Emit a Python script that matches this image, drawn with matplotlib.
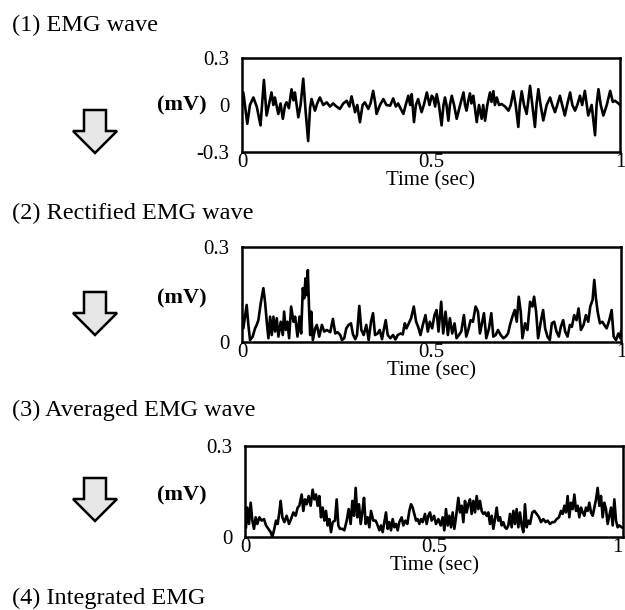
import matplotlib
matplotlib.use("Agg")
import matplotlib.pyplot as plt
from matplotlib.patches import Polygon
import numpy as np

# (1) raw EMG wave, time (sec) / mV
t_raw = [0.000, 0.0035, 0.014, 0.021, 0.030, 0.039, 0.049, 0.058, 0.065, 0.072,
         0.078, 0.083, 0.087, 0.096, 0.102, 0.108, 0.114, 0.118, 0.124, 0.131,
         0.136, 0.140, 0.149, 0.155, 0.162, 0.168, 0.175, 0.180, 0.184, 0.193,
         0.199, 0.206, 0.215, 0.224, 0.233, 0.241, 0.250, 0.259, 0.268, 0.277,
         0.284, 0.290, 0.299, 0.305, 0.312, 0.319, 0.325, 0.334, 0.340, 0.347,
         0.352, 0.356, 0.365, 0.374, 0.382, 0.392, 0.400, 0.407, 0.413, 0.419,
         0.427, 0.433, 0.440, 0.445, 0.449, 0.455, 0.460, 0.466, 0.475, 0.481,
         0.489, 0.496, 0.502, 0.506, 0.511, 0.515, 0.521, 0.528, 0.533, 0.537,
         0.541, 0.546, 0.550, 0.555, 0.561, 0.568, 0.577, 0.586, 0.590, 0.594,
         0.598, 0.603, 0.607, 0.612, 0.621, 0.627, 0.634, 0.638, 0.643, 0.649,
         0.656, 0.660, 0.665, 0.669, 0.674, 0.680, 0.687, 0.696, 0.705, 0.711,
         0.718, 0.724, 0.731, 0.735, 0.740, 0.746, 0.753, 0.757, 0.762, 0.768,
         0.775, 0.779, 0.784, 0.790, 0.797, 0.806, 0.815, 0.821, 0.828, 0.834,
         0.841, 0.847, 0.854, 0.860, 0.868, 0.874, 0.881, 0.887, 0.894, 0.900,
         0.907, 0.912, 0.916, 0.925, 0.934, 0.938, 0.943, 0.949, 0.956, 0.965,
         0.974, 0.981, 0.987, 0.996, 1.000]
v_raw = [0.000, 0.080, -0.120, 0.000, 0.048, -0.010, -0.130, 0.160, -0.067, 0.010,
         0.080, 0.000, 0.048, -0.057, 0.010, -0.088, 0.000, 0.017, -0.020, 0.100,
         0.030, 0.080, -0.078, 0.000, 0.168, -0.030, -0.230, -0.020, 0.038, -0.036,
         0.010, 0.048, 0.000, 0.017, -0.010, 0.010, -0.010, -0.025, 0.010, 0.027,
         -0.010, 0.055, -0.046, 0.000, -0.110, 0.000, 0.017, -0.025, 0.010, 0.090,
         0.020, -0.057, 0.000, 0.038, 0.000, -0.004, 0.042, -0.010, 0.010, -0.020,
         -0.057, 0.000, 0.059, 0.000, 0.069, -0.109, 0.000, 0.038, -0.046, 0.000,
         0.080, 0.000, 0.059, 0.048, -0.010, 0.069, 0.000, -0.130, 0.000, 0.048,
         0.000, -0.100, 0.000, 0.059, 0.000, -0.088, 0.000, 0.080, 0.000, -0.036,
         0.020, 0.074, 0.010, 0.059, -0.109, 0.000, -0.088, 0.000, -0.100, 0.000,
         0.080, 0.020, 0.088, 0.000, 0.048, 0.000, 0.006, -0.010, -0.036, 0.000,
         0.088, 0.000, -0.140, 0.000, 0.088, 0.000, -0.057, 0.020, 0.122, 0.000,
         -0.140, 0.000, 0.101, 0.000, -0.099, 0.000, 0.048, 0.000, -0.046, 0.000,
         0.059, 0.000, -0.067, 0.000, 0.080, 0.000, -0.036, 0.000, 0.059, 0.000,
         0.090, 0.000, -0.067, 0.000, -0.193, 0.000, 0.101, 0.000, -0.067, 0.000,
         0.090, 0.020, 0.027, 0.010, 0.000]

# (2) rectified EMG wave
t_rect = [0.000, 0.0035, 0.0079, 0.0123, 0.0168, 0.0212, 0.0282, 0.0344, 0.0388, 0.0432,
          0.0494, 0.0564, 0.0608, 0.0653, 0.0697, 0.0741, 0.0785, 0.0829, 0.0873, 0.0917,
          0.0961, 0.1023, 0.1076, 0.1111, 0.1155, 0.1199, 0.1243, 0.1296, 0.1358, 0.1402,
          0.1464, 0.1517, 0.1561, 0.1605, 0.1640, 0.1675, 0.1711, 0.1737, 0.1772, 0.1799,
          0.1825, 0.1869, 0.1931, 0.1975, 0.2037, 0.2108, 0.2169, 0.2240, 0.2328, 0.2399,
          0.2460, 0.2522, 0.2593, 0.2637, 0.2698, 0.2751, 0.2813, 0.2875, 0.2928, 0.2989,
          0.3034, 0.3095, 0.3148, 0.3210, 0.3280, 0.3342, 0.3404, 0.3457, 0.3510, 0.3580,
          0.3633, 0.3695, 0.3739, 0.3792, 0.3845, 0.3915, 0.3986, 0.4048, 0.4109, 0.4180,
          0.4242, 0.4295, 0.4339, 0.4400, 0.4462, 0.4533, 0.4594, 0.4647, 0.4709, 0.4771,
          0.4841, 0.4903, 0.4956, 0.5018, 0.5079, 0.5132, 0.5185, 0.5256, 0.5309, 0.5370,
          0.5432, 0.5485, 0.5547, 0.5608, 0.5661, 0.5723, 0.5785, 0.5855, 0.5917, 0.5970,
          0.6032, 0.6093, 0.6164, 0.6226, 0.6279, 0.6340, 0.6384, 0.6446, 0.6517, 0.6578,
          0.6631, 0.6693, 0.6755, 0.6825, 0.6896, 0.6958, 0.7019, 0.7072, 0.7134, 0.7196,
          0.7249, 0.7302, 0.7354, 0.7399, 0.7469, 0.7531, 0.7601, 0.7663, 0.7707, 0.7760,
          0.7813, 0.7884, 0.7945, 0.7998, 0.8060, 0.8122, 0.8175, 0.8236, 0.8298, 0.8360,
          0.8413, 0.8474, 0.8527, 0.8589, 0.8651, 0.8704, 0.8765, 0.8827, 0.8880, 0.8942,
          0.9012, 0.9074, 0.9136, 0.9189, 0.9250, 0.9295, 0.9339, 0.9383, 0.9444, 0.9506,
          0.9559, 0.9621, 0.9691, 0.9753, 0.9806, 0.9868, 0.9929, 0.9982, 1.000]
v_rect = [0.085, 0.043, 0.080, 0.117, 0.054, 0.006, 0.017, 0.043, 0.054, 0.069,
          0.122, 0.170, 0.127, 0.064, 0.012, 0.080, 0.022, 0.080, 0.033, 0.075,
          0.017, 0.064, 0.022, 0.096, 0.038, 0.064, 0.012, 0.112, 0.064, 0.080,
          0.017, 0.080, 0.027, 0.170, 0.138, 0.201, 0.148, 0.227, 0.096, 0.022,
          0.096, 0.006, 0.043, 0.054, 0.017, 0.054, 0.033, 0.038, 0.031, 0.073,
          0.027, 0.031, 0.022, 0.006, 0.012, 0.043, 0.054, 0.059, 0.024, 0.009,
          0.022, 0.114, 0.038, 0.022, 0.054, 0.006, 0.064, 0.091, 0.022, 0.027,
          0.038, 0.009, 0.038, 0.069, 0.022, 0.012, 0.022, 0.008, 0.022, 0.027,
          0.024, 0.059, 0.043, 0.059, 0.075, 0.112, 0.064, 0.048, 0.022, 0.054,
          0.085, 0.033, 0.064, 0.043, 0.085, 0.101, 0.033, 0.127, 0.027, 0.096,
          0.022, 0.075, 0.027, 0.059, 0.012, 0.022, 0.033, 0.085, 0.017, 0.038,
          0.069, 0.064, 0.112, 0.096, 0.027, 0.064, 0.091, 0.012, 0.043, 0.091,
          0.017, 0.022, 0.038, 0.022, 0.012, 0.017, 0.027, 0.054, 0.080, 0.101,
          0.064, 0.143, 0.096, 0.012, 0.059, 0.038, 0.127, 0.112, 0.143, 0.096,
          0.012, 0.064, 0.101, 0.043, 0.017, 0.006, 0.059, 0.064, 0.033, 0.017,
          0.048, 0.069, 0.033, 0.017, 0.054, 0.048, 0.085, 0.069, 0.106, 0.038,
          0.054, 0.085, 0.064, 0.112, 0.133, 0.196, 0.138, 0.096, 0.059, 0.064,
          0.054, 0.043, 0.069, 0.101, 0.017, 0.006, 0.027, 0.012, 0.033]

# (3) averaged EMG wave
t_avg = [0.0026, 0.0062, 0.0106, 0.0150, 0.0194, 0.0238, 0.0282, 0.0326, 0.0379, 0.0441,
         0.0503, 0.0556, 0.0617, 0.0679, 0.0723, 0.0767, 0.0820, 0.0864, 0.0908, 0.0944,
         0.0988, 0.1041, 0.1102, 0.1164, 0.1217, 0.1279, 0.1340, 0.1393, 0.1437, 0.1499,
         0.1543, 0.1587, 0.1631, 0.1684, 0.1737, 0.1790, 0.1834, 0.1878, 0.1922, 0.1966,
         0.2011, 0.2055, 0.2099, 0.2143, 0.2187, 0.2231, 0.2275, 0.2319, 0.2381, 0.2425,
         0.2469, 0.2513, 0.2575, 0.2628, 0.2690, 0.2743, 0.2795, 0.2840, 0.2884, 0.2928,
         0.2972, 0.3016, 0.3060, 0.3104, 0.3148, 0.3192, 0.3245, 0.3289, 0.3333, 0.3395,
         0.3457, 0.3510, 0.3554, 0.3598, 0.3642, 0.3686, 0.3730, 0.3774, 0.3818, 0.3862,
         0.3907, 0.3951, 0.3995, 0.4039, 0.4083, 0.4145, 0.4189, 0.4242, 0.4295, 0.4347,
         0.4392, 0.4436, 0.4480, 0.4524, 0.4568, 0.4612, 0.4656, 0.4700, 0.4762, 0.4806,
         0.4850, 0.4894, 0.4938, 0.5000, 0.5053, 0.5115, 0.5176, 0.5229, 0.5273, 0.5317,
         0.5362, 0.5406, 0.5450, 0.5494, 0.5538, 0.5582, 0.5644, 0.5688, 0.5732, 0.5776,
         0.5820, 0.5864, 0.5908, 0.5952, 0.5996, 0.6041, 0.6085, 0.6129, 0.6173, 0.6217,
         0.6261, 0.6305, 0.6349, 0.6393, 0.6437, 0.6481, 0.6526, 0.6570, 0.6614, 0.6658,
         0.6702, 0.6746, 0.6790, 0.6834, 0.6878, 0.6922, 0.6966, 0.7011, 0.7055, 0.7099,
         0.7143, 0.7187, 0.7231, 0.7275, 0.7319, 0.7363, 0.7407, 0.7451, 0.7496, 0.7540,
         0.7601, 0.7654, 0.7716, 0.7778, 0.7831, 0.7892, 0.7954, 0.8007, 0.8069, 0.8131,
         0.8183, 0.8245, 0.8307, 0.8360, 0.8404, 0.8448, 0.8492, 0.8536, 0.8580, 0.8624,
         0.8668, 0.8713, 0.8757, 0.8801, 0.8845, 0.8889, 0.8933, 0.8977, 0.9021, 0.9065,
         0.9109, 0.9153, 0.9198, 0.9242, 0.9286, 0.9330, 0.9374, 0.9418, 0.9462, 0.9506,
         0.9550, 0.9594, 0.9638, 0.9683, 0.9727, 0.9771, 0.9815, 0.9859, 0.9903, 0.9965,
         1.000]
v_avg = [0.032, 0.097, 0.043, 0.113, 0.054, 0.027, 0.065, 0.043, 0.065, 0.054,
         0.059, 0.038, 0.027, 0.016, 0.000, 0.022, 0.054, 0.043, 0.081, 0.119,
         0.065, 0.049, 0.070, 0.043, 0.059, 0.081, 0.070, 0.097, 0.103, 0.140,
         0.086, 0.124, 0.108, 0.135, 0.103, 0.156, 0.124, 0.140, 0.103, 0.135,
         0.065, 0.097, 0.054, 0.086, 0.038, 0.059, 0.016, 0.049, 0.054, 0.124,
         0.038, 0.027, 0.027, 0.022, 0.054, 0.092, 0.043, 0.119, 0.070, 0.162,
         0.065, 0.108, 0.043, 0.081, 0.129, 0.043, 0.065, 0.032, 0.086, 0.054,
         0.054, 0.038, 0.022, 0.038, 0.016, 0.049, 0.081, 0.027, 0.049, 0.022,
         0.059, 0.032, 0.043, 0.022, 0.049, 0.065, 0.038, 0.054, 0.043, 0.086,
         0.108, 0.097, 0.076, 0.054, 0.059, 0.043, 0.059, 0.049, 0.076, 0.043,
         0.070, 0.081, 0.054, 0.070, 0.043, 0.059, 0.038, 0.065, 0.022, 0.092,
         0.038, 0.070, 0.032, 0.081, 0.027, 0.065, 0.129, 0.081, 0.103, 0.049,
         0.119, 0.081, 0.108, 0.124, 0.076, 0.119, 0.081, 0.135, 0.092, 0.119,
         0.086, 0.076, 0.081, 0.070, 0.081, 0.043, 0.070, 0.027, 0.059, 0.097,
         0.054, 0.065, 0.038, 0.049, 0.032, 0.027, 0.038, 0.076, 0.032, 0.086,
         0.043, 0.092, 0.032, 0.081, 0.038, 0.016, 0.108, 0.032, 0.054, 0.043,
         0.081, 0.086, 0.076, 0.065, 0.049, 0.059, 0.049, 0.054, 0.043, 0.049,
         0.049, 0.059, 0.065, 0.086, 0.076, 0.103, 0.081, 0.135, 0.065, 0.113,
         0.092, 0.140, 0.086, 0.103, 0.065, 0.097, 0.081, 0.070, 0.097, 0.086,
         0.113, 0.081, 0.070, 0.097, 0.124, 0.162, 0.103, 0.135, 0.065, 0.113,
         0.092, 0.043, 0.070, 0.097, 0.038, 0.124, 0.054, 0.032, 0.038, 0.032,
         0.030]

titles = ["(1) EMG wave", "(2) Rectified EMG wave", "(3) Averaged EMG wave", "(4) Integrated EMG"]

W, H = 625, 610


def fx(px):
    return px / W


def fy(py):
    return 1 - py / H


def panel(fig, box, t, v, ylim, yticks, yticklabels):
    x0, y0, x1, y1 = box
    ax = fig.add_axes([fx(x0), fy(y1), fx(x1 - x0), (y1 - y0) / H])
    ax.plot(t, v, color="black", lw=1.9)
    ax.set_xlim(0, 1)
    ax.set_ylim(*ylim)
    ax.set_yticks(yticks)
    ax.set_yticklabels(yticklabels)
    ax.set_xticks([0, 0.5, 1])
    ax.set_xticklabels(["0", "0.5", "1"])
    ax.tick_params(length=0, labelsize=15, pad=1)
    ax.tick_params(axis="y", pad=9)
    for s in ax.spines.values():
        s.set_linewidth(1.8)
    ax.set_xlabel("Time (sec)", fontsize=15, labelpad=-1)
    # keep the "1" at the right edge inside the picture
    if x1 > W - 4:
        ax.get_xticklabels()[-1].set_horizontalalignment("right")
    return ax


def arrow(ov, x, y):
    # block arrow pointing down, outline with light speckled-grey fill
    pts = [(x + 11, y), (x + 33, y), (x + 33, y + 21), (x + 44, y + 21),
           (x + 22, y + 43), (x + 0, y + 21), (x + 11, y + 21)]
    ov.add_patch(Polygon(pts, closed=True, facecolor="#e6e6e6", edgecolor="black", lw=1.8))


def main():
    plt.rcParams["font.family"] = ["Liberation Serif", "DejaVu Serif"]
    fig = plt.figure(figsize=(6.25, 6.1), dpi=100)

    panel(fig, (242, 58, 620, 152), t_raw, v_raw, (-0.3, 0.3), [-0.3, 0, 0.3], ["-0.3", "0", "0.3"])
    panel(fig, (242, 247, 621, 342), t_rect, v_rect, (0, 0.3), [0, 0.3], ["0", "0.3"])
    panel(fig, (245, 446, 623, 537), t_avg, v_avg, (0, 0.3), [0, 0.3], ["0", "0.3"])

    # overlay in pixel coordinates for titles, arrows and unit labels
    ov = fig.add_axes([0, 0, 1, 1], zorder=-1)
    ov.set_xlim(0, W)
    ov.set_ylim(H, 0)
    ov.axis("off")

    for txt, ty in zip(titles, [25, 213, 410, 598]):
        ov.text(12, ty, txt, fontsize=17.5, va="center", ha="left")

    for ay in [110, 292, 478]:
        arrow(ov, 73, ay)

    for my in [105, 298, 495]:
        ov.text(182, my, "(mV)", fontsize=16, fontweight="bold", va="center", ha="center")

    plt.savefig("out.png", dpi=100)


if __name__ == "__main__":
    main()
